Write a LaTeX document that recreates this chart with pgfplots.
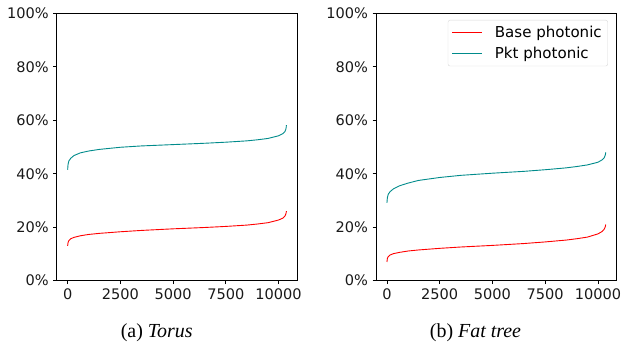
\documentclass[border=0pt]{standalone}
\usepackage{fontspec}
\setmainfont{DejaVu Sans}
\newfontfamily\capfont{Liberation Serif}
\usepackage{pgfplots}
\pgfplotsset{compat=1.18}
\definecolor{pkt}{RGB}{0,139,139}
\definecolor{base}{RGB}{255,0,0}
\newcommand{\lgf}{\fontsize{15.1}{18}\selectfont}
\pgfplotstableread{
x y
0 41.5
20 43.5
60 44.8
150 45.8
300 46.8
600 47.8
1000 48.5
1500 49.1
2500 49.9
3500 50.4
5000 50.9
6500 51.4
7500 51.8
8500 52.3
9000 52.7
9500 53.2
10000 54.2
10200 55.0
10300 55.8
10340 56.6
10360 57.4
10367 58.2
}\torusPkt
\pgfplotstableread{
x y
0 13.0
20 14.3
60 15.0
150 15.7
300 16.2
600 16.8
1000 17.3
1500 17.7
2500 18.3
3500 18.8
5000 19.4
6500 19.9
7500 20.3
8500 20.8
9000 21.2
9500 21.7
10000 22.7
10200 23.4
10300 24.2
10340 24.9
10360 25.5
10367 26.0
}\torusBase
\pgfplotstableread{
x y
0 29.1
20 31.0
60 32.3
150 33.3
300 34.3
600 35.5
1000 36.5
1500 37.5
2500 38.6
3500 39.4
5000 40.2
6500 40.9
7500 41.5
8500 42.2
9000 42.7
9500 43.3
10000 44.3
10200 45.2
10300 46.0
10340 46.8
10360 47.4
10367 48.0
}\fatPkt
\pgfplotstableread{
x y
0 7.0
20 8.3
60 9.0
150 9.6
300 10.1
600 10.6
1000 11.1
1500 11.5
2500 12.1
3500 12.6
5000 13.2
6500 13.9
7500 14.5
8500 15.2
9000 15.7
9500 16.3
10000 17.5
10200 18.4
10300 19.3
10340 20.0
10360 20.6
10367 21.0
}\fatBase
\pgfplotsset{
  myaxis/.style={
    scale only axis,
    anchor=south west,
    width=240.6bp, height=267.4bp,
    xmin=-518.35, xmax=10885.35,
    ymin=0, ymax=100,
    xtick={0,2500,5000,7500,10000},
    ytick={0,20,40,60,80,100},
    scaled x ticks=false,
    xticklabel={\pgfmathprintnumber[fixed,precision=0,1000 sep={}]{\tick}},
    yticklabel={\pgfmathprintnumber{\tick}\%},
    /pgf/number format/assume math mode=true,
    /pgf/number format/1000 sep={},
    tick label style={font=\fontsize{14.6}{16}\selectfont, text=black!90},
    tick align=outside,
    xtick pos=bottom, ytick pos=left,
    major tick length=3.5bp,
    every tick/.style={black, line width=0.8bp},
    axis line style={line width=0.8bp},
    every axis plot/.append style={line width=0.9bp, no markers},
    xticklabel style={yshift=-1bp},
    yticklabel style={xshift=-1bp},
  }
}
\begin{document}
\begin{tikzpicture}
\path[use as bounding box] (0,0) rectangle (621bp,346bp);
\begin{axis}[myaxis, at={(56.7bp,65.3bp)}]
\addplot[base] table[x=x,y=y] {\torusBase};
\addplot[pkt] table[x=x,y=y] {\torusPkt};
\end{axis}
\begin{axis}[myaxis, at={(376bp,65.3bp)},
  legend style={at={(1,1)}, anchor=north east, xshift=-8.7bp, yshift=-6.7bp,
    draw=black!15, rounded corners=2bp, fill=white,
    font=\lgf, row sep=4bp, inner xsep=4bp, inner ysep=4bp,
    /tikz/every odd column/.append style={column sep=10bp}},
  legend cell align=left,
  legend image code/.code={\draw[mark repeat=2,mark phase=2,#1] plot coordinates {(0bp,0bp) (15bp,0bp) (30bp,0bp)};},
]
\addplot[base] table[x=x,y=y] {\fatBase};
\addlegendentry{Base photonic}
\addplot[pkt] table[x=x,y=y] {\fatPkt};
\addlegendentry{Pkt photonic}
\end{axis}
\node[anchor=base, font=\capfont\fontsize{20}{22}\selectfont] at (156.7bp,9bp) {(a) \textit{Torus}};
\node[anchor=base, font=\capfont\fontsize{20}{22}\selectfont] at (475.5bp,9bp) {(b) \textit{Fat tree}};
\end{tikzpicture}
\end{document}
